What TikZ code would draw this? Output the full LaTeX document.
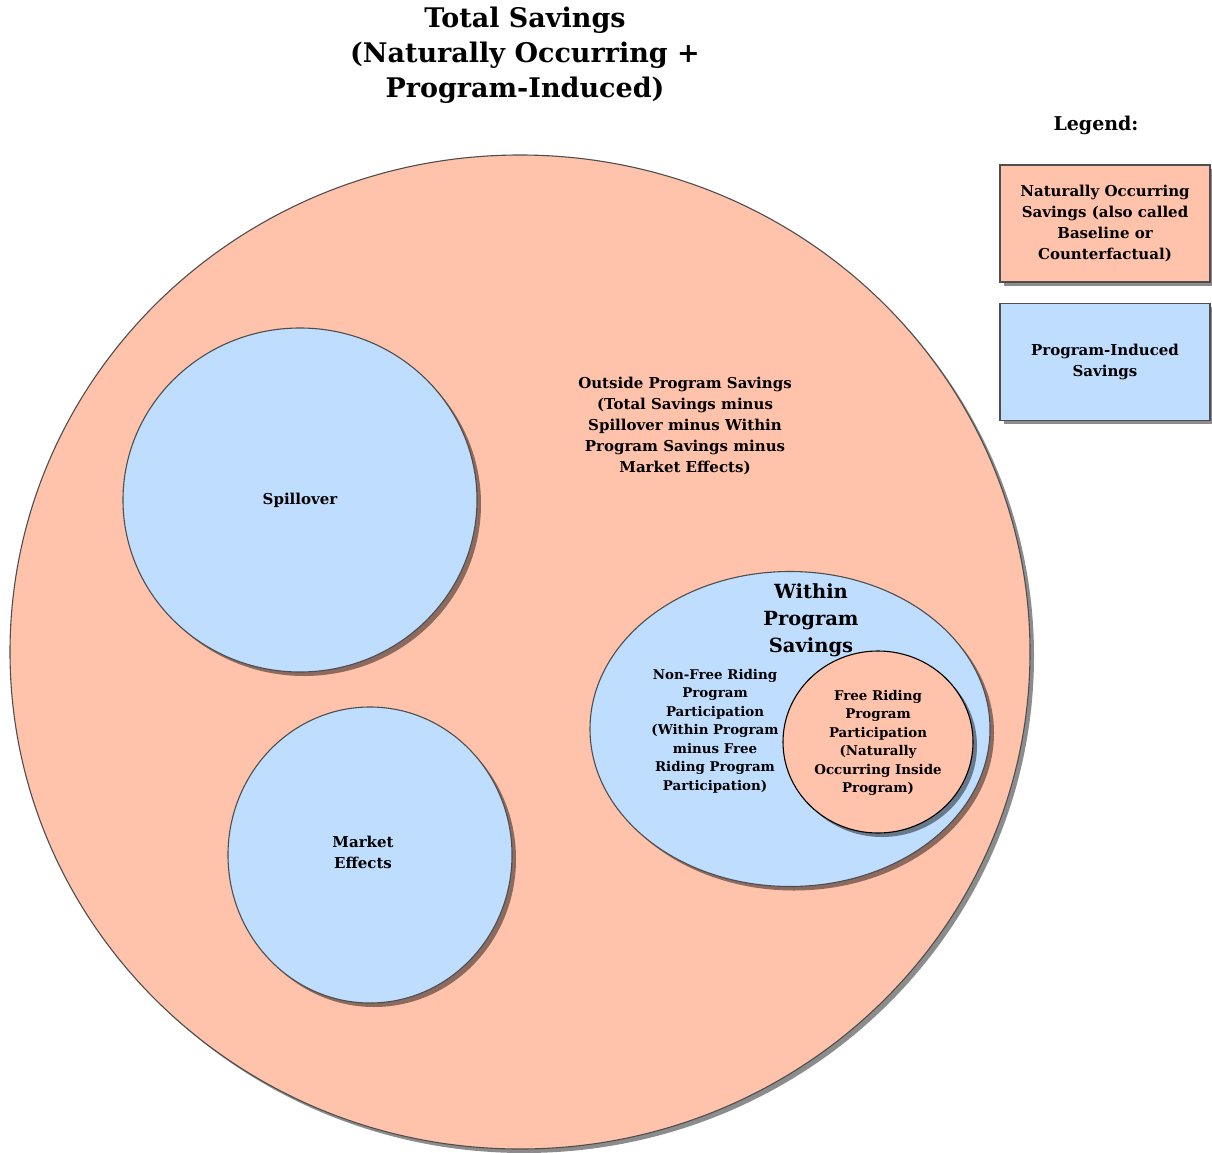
\documentclass[tikz,border=0pt]{standalone}
\usepackage{fontspec}
\setmainfont{DejaVu Serif}
\usetikzlibrary{positioning,shapes.geometric,shadows}

\definecolor{natural}{RGB}{255,194,170}
\definecolor{induced}{RGB}{191,221,255}
\definecolor{rim}{RGB}{78,78,78}

\begin{document}
\begin{tikzpicture}[
    x=1pt, y=-1pt,
    every node/.style={align=center},
    shade/.style={drop shadow={shadow xshift=4pt, shadow yshift=-4pt, fill=black, opacity=0.45}},
    naturalarea/.style={ellipse, draw=rim, line width=1.1pt, fill=natural, shade},
    inducedarea/.style={ellipse, draw=rim, line width=1.1pt, fill=induced, shade},
    legendbox/.style={rectangle, draw=rim, line width=1.1pt, shade,
        minimum width=210pt, minimum height=117pt},
    smalltext/.style={font=\fontsize{15}{21}\selectfont\bfseries},
    tinytext/.style={font=\fontsize{13.4}{18.5}\selectfont\bfseries}
]
\useasboundingbox (0,0) rectangle (1212,1153);

% Title
\node[font=\fontsize{27}{35}\selectfont\bfseries] (title) at (525,55)
    {Total Savings\\(Naturally Occurring +\\Program-Induced)};

% Areas
\node[
    naturalarea,
    minimum width=1020pt,
    minimum height=994pt
] (total) at (520,652) {};

\node[
    inducedarea,
    minimum width=354pt,
    minimum height=344pt,
    smalltext
] (spill) at (300,500) {Spillover};

\node[
    inducedarea,
    minimum width=284pt,
    minimum height=296pt
] (market) at (370,855) {};

\node[
    inducedarea,
    minimum width=400pt,
    minimum height=315pt
] (within) at (790,729) {};

\node[
    naturalarea,
    draw=black,
    minimum width=190pt,
    minimum height=182pt
] (freeride) at (878,742) {};

% Labels
\node[smalltext] (markettext) at (363,852) {Market\\Effects};

\node[smalltext] (outside) at (685,426)
    {Outside Program Savings\\(Total Savings minus\\Spillover minus Within\\Program Savings minus\\Market Effects)};

\node[font=\fontsize{19.5}{27}\selectfont\bfseries] (withintitle) at (811,620)
    {Within\\Program\\Savings};

\node[tinytext] (nonfree) at (715,731)
    {Non-Free Riding\\Program\\Participation\\(Within Program\\minus Free\\Riding Program\\Participation)};

\node[tinytext] (freetext) at (878,743)
    {Free Riding\\Program\\Participation\\(Naturally\\Occurring Inside\\Program)};

% Legend
\node[font=\fontsize{19}{22}\selectfont\bfseries] (legend) at (1096,125) {Legend:};

\node[
    legendbox,
    fill=natural,
    smalltext
] (legnatural) at (1105,223.5)
    {Naturally Occurring\\Savings (also called\\Baseline or\\Counterfactual)};

\node[
    legendbox,
    fill=induced,
    smalltext,
    below=20pt of legnatural
] (leginduced) {Program-Induced\\Savings};

\end{tikzpicture}
\end{document}
